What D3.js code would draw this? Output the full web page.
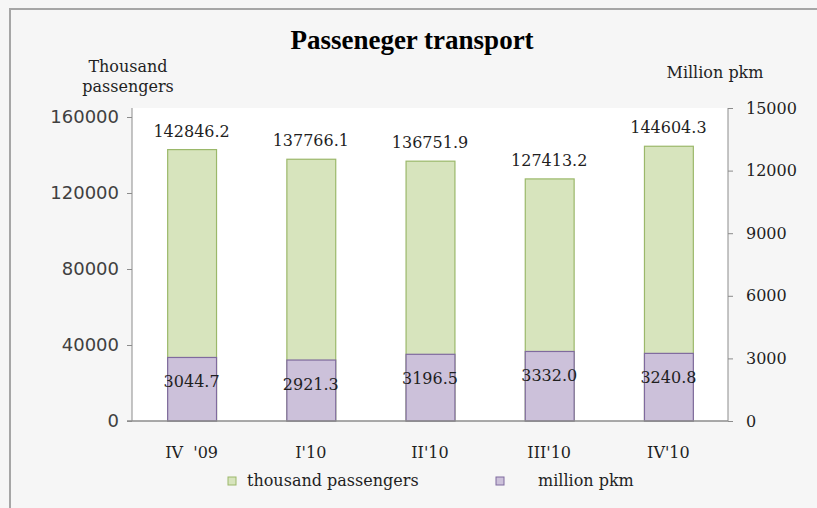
<!DOCTYPE html>
<html>
<head>
<meta charset="utf-8">
<script src="https://cdn.jsdelivr.net/npm/d3@7/dist/d3.min.js"></script>
<style>
  html, body { margin: 0; padding: 0; background: #f6f6f6; }
  svg { display: block; }
  text { white-space: pre; }
</style>
</head>
<body>
<svg id="chart" width="817" height="508"></svg>
<script>
// ---- data ----
const categories = ["IV  '09", "I'10", "II'10", "III'10", "IV'10"];
const passengers = [142846.2, 137766.1, 136751.9, 127413.2, 144604.3]; // thousand passengers (left axis)
const pkm = [3044.7, 2921.3, 3196.5, 3332.0, 3240.8];                  // million pkm (right axis)
const leftTicks = [0, 40000, 80000, 120000, 160000];
const rightTicks = [0, 3000, 6000, 9000, 12000, 15000];
const seriesNames = ["thousand passengers", "million pkm"];

// ---- layout ----
const W = 817, H = 508;
const plot = { left: 132, right: 728, top: 108, bottom: 421 };
const serif = "'DejaVu Serif', serif";
const sans = "'DejaVu Sans', sans-serif";

const svg = d3.select("#chart");

// background + frame
svg.append("rect").attr("x", 0).attr("y", 0).attr("width", W).attr("height", H).attr("fill", "#f6f6f6");
svg.append("rect").attr("x", 10).attr("y", 9).attr("width", W + 20).attr("height", H + 20)
  .attr("fill", "#f6f6f6").attr("stroke", "#a6a6a6").attr("stroke-width", 2);
svg.append("rect").attr("x", plot.left).attr("y", plot.top)
  .attr("width", plot.right - plot.left).attr("height", plot.bottom - plot.top).attr("fill", "#ffffff");

// scales
const x = d3.scaleBand().domain(categories).range([plot.left, plot.right]).paddingInner(0.59).paddingOuter(0.295);
const yL = d3.scaleLinear().domain([0, 160000]).range([plot.bottom, plot.bottom - 304]);
const yR = d3.scaleLinear().domain([0, 15000]).range([plot.bottom, plot.top]);

// green bars (passengers)
svg.append("g").selectAll("rect").data(passengers).join("rect")
  .attr("x", (d, i) => x(categories[i]) + 0.5)
  .attr("y", d => yL(d))
  .attr("width", x.bandwidth())
  .attr("height", d => yL(0) - yL(d))
  .attr("fill", "#d7e4bd").attr("stroke", "#9bb86a").attr("stroke-width", 1.2);

// purple bars (pkm)
svg.append("g").selectAll("rect").data(pkm).join("rect")
  .attr("x", (d, i) => x(categories[i]) + 0.5)
  .attr("y", d => yR(d))
  .attr("width", x.bandwidth())
  .attr("height", d => yR(0) - yR(d))
  .attr("fill", "#ccc1da").attr("stroke", "#7f6a9e").attr("stroke-width", 1.2);

// value labels
svg.append("g").selectAll("text").data(passengers).join("text")
  .attr("x", (d, i) => x(categories[i]) + x.bandwidth() / 2)
  .attr("y", d => yL(d) - 13)
  .attr("text-anchor", "middle").attr("font-family", serif).attr("font-size", 16).attr("fill", "#1f1f1f")
  .text(d => d.toFixed(1));
svg.append("g").selectAll("text").data(pkm).join("text")
  .attr("x", (d, i) => x(categories[i]) + x.bandwidth() / 2)
  .attr("y", d => yR(d) + 30)
  .attr("text-anchor", "middle").attr("font-family", serif).attr("font-size", 16).attr("fill", "#1f1f1f")
  .text(d => d.toFixed(1));

// axes
const axisColor = "#8c8c8c";
const gL = svg.append("g").attr("transform", `translate(${plot.left},0)`)
  .call(d3.axisLeft(yL).tickValues(leftTicks).tickSize(5).tickSizeOuter(0).tickPadding(8).tickFormat(d3.format("d")));
gL.select(".domain").remove();
gL.selectAll("line").attr("stroke", axisColor);
gL.selectAll("text").attr("font-family", sans).attr("font-size", 18).attr("fill", "#404040");
svg.append("line").attr("x1", plot.left).attr("x2", plot.left).attr("y1", plot.top).attr("y2", plot.bottom)
  .attr("stroke", axisColor);

const gR = svg.append("g").attr("transform", `translate(${plot.right},0)`)
  .call(d3.axisRight(yR).tickValues(rightTicks).tickSize(5).tickSizeOuter(0).tickPadding(13).tickFormat(d3.format("d")));
gR.select(".domain").remove();
gR.selectAll("line").attr("stroke", axisColor);
gR.selectAll("text").attr("font-family", serif).attr("font-size", 16).attr("fill", "#1f1f1f");
svg.append("line").attr("x1", plot.right).attr("x2", plot.right).attr("y1", plot.top).attr("y2", plot.bottom)
  .attr("stroke", axisColor);

// bottom axis line
svg.append("line").attr("x1", plot.left - 5).attr("x2", plot.right).attr("y1", plot.bottom).attr("y2", plot.bottom)
  .attr("stroke", axisColor).attr("stroke-width", 1.5);

// category labels
svg.append("g").selectAll("text").data(categories).join("text")
  .attr("x", d => x(d) + x.bandwidth() / 2)
  .attr("y", 458)
  .attr("text-anchor", "middle").attr("font-family", serif).attr("font-size", 16).attr("fill", "#1f1f1f")
  .text(d => d);

// titles
svg.append("text").attr("x", 412).attr("y", 49).attr("text-anchor", "middle")
  .attr("font-family", "'Liberation Serif', serif").attr("font-weight", "bold").attr("font-size", 27).attr("fill", "#000")
  .text("Passeneger transport");
svg.append("text").attr("x", 128).attr("y", 72).attr("text-anchor", "middle")
  .attr("font-family", serif).attr("font-size", 16).attr("fill", "#1f1f1f").text("Thousand");
svg.append("text").attr("x", 128).attr("y", 92).attr("text-anchor", "middle")
  .attr("font-family", serif).attr("font-size", 16).attr("fill", "#1f1f1f").text("passengers");
svg.append("text").attr("x", 715).attr("y", 78).attr("text-anchor", "middle")
  .attr("font-family", serif).attr("font-size", 16).attr("fill", "#1f1f1f").text("Million pkm");

// legend
const legendItems = [
  { name: seriesNames[0], fill: "#d7e4bd", stroke: "#9bb86a", sx: 228, tx: 247 },
  { name: seriesNames[1], fill: "#ccc1da", stroke: "#7f6a9e", sx: 496, tx: 538 }
];
const lg = svg.append("g").selectAll("g").data(legendItems).join("g");
lg.append("rect").attr("x", d => d.sx).attr("y", 477).attr("width", 8).attr("height", 8)
  .attr("fill", d => d.fill).attr("stroke", d => d.stroke).attr("stroke-width", 1);
lg.append("text").attr("x", d => d.tx).attr("y", 486)
  .attr("font-family", serif).attr("font-size", 16).attr("fill", "#1f1f1f").text(d => d.name);
</script>
</body>
</html>
